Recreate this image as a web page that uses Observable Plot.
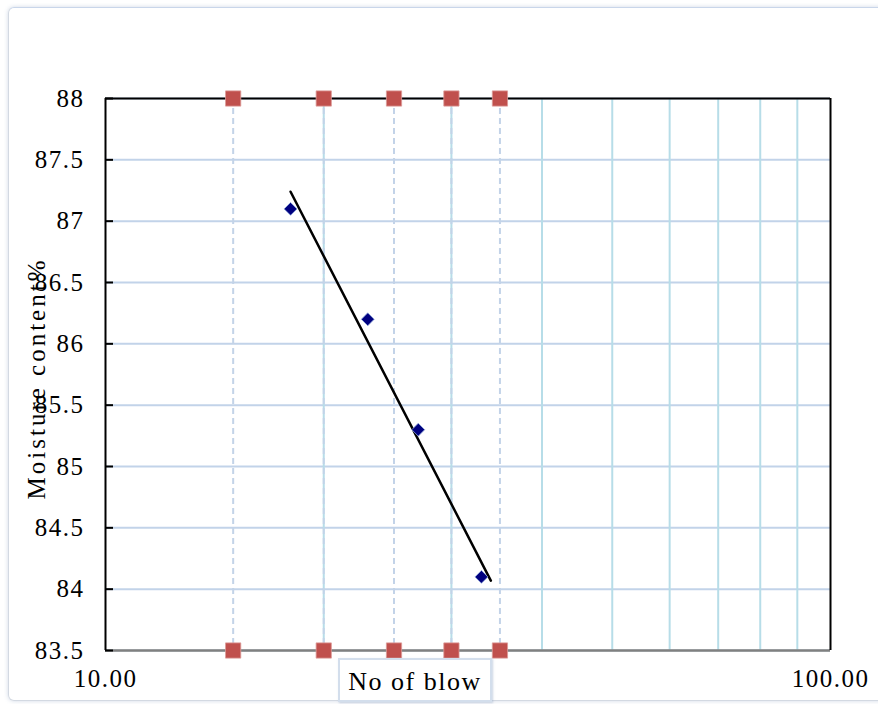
<!DOCTYPE html>
<html><head><meta charset="utf-8">
<script src="https://cdn.jsdelivr.net/npm/d3@7"></script>
<script src="https://cdn.jsdelivr.net/npm/@observablehq/plot@0.6"></script>
<style>
body{margin:0;background:#fff;}
#wrap{position:relative;width:878px;height:704px;overflow:hidden;}
#panel{position:absolute;left:8px;top:7px;width:900px;height:692px;border:1.5px solid #d3d9e2;border-top-color:#c9d6ea;border-radius:6px;box-shadow:0 0 4px rgba(150,170,200,0.45);}
#chart{position:absolute;left:0;top:0;}
#xlabel{position:absolute;left:338px;top:658px;width:150px;height:40px;border:2px solid #d3deec;box-shadow:1px 1px 2px rgba(150,170,200,0.5);background:#fff;font:26px "Liberation Serif";letter-spacing:1.5px;text-align:center;line-height:44px;color:#000;white-space:nowrap;}
</style></head>
<body>
<div id="wrap"><div id="panel"></div><div id="chart"></div><div id="xlabel">No of blow</div></div>
<script>
// ---- data ----
const blows = [18, 23, 27, 33];
const moisture = [87.1, 86.2, 85.3, 84.1];
const markerBlows = [15, 20, 25, 30, 35];
const markerLevels = [88, 83.5];
const trendBlows = [18, 34];
const trendMoisture = [87.24, 84.07];
const yTicks = [83.5, 84, 84.5, 85, 85.5, 86, 86.5, 87, 87.5, 88];
const xGrid = [20, 30, 40, 50, 60, 70, 80, 90];
const xTicks = [10, 100];
const xTickLabels = ["10.00", "100.00"];
const yTitle = "Moisture content%";

const points = blows.map((b, i) => ({b, m: moisture[i]}));
const squares = markerLevels.flatMap(l => markerBlows.map(b => ({b, l})));
const trend = trendBlows.map((b, i) => ({b, m: trendMoisture[i]}));
const font = "Liberation Serif";

const chart = Plot.plot({
  width: 878, height: 704,
  marginLeft: 105, marginRight: 48, marginTop: 98, marginBottom: 54,
  style: {fontFamily: font, background: "transparent", overflow: "visible"},
  x: {type: "log", domain: [10, 100]},
  y: {domain: [83.5, 88]},
  marks: [
    Plot.gridY(yTicks, {stroke: "#c2d3e9", strokeOpacity: 1, strokeWidth: 2}),
    Plot.gridX(xGrid, {stroke: "#b7dde8", strokeOpacity: 1, strokeWidth: 2}),
    Plot.ruleX(markerBlows, {stroke: "#c3d3e8", strokeWidth: 2, strokeDasharray: "6,4"}),
    Plot.ruleY([83.5], {stroke: "#808080", strokeWidth: 2.5}),
    Plot.ruleY([88], {stroke: "#000", strokeWidth: 2}),
    Plot.ruleX([10, 100], {stroke: "#000", strokeWidth: 2}),
    Plot.axisY(yTicks, {tickSize: 8, dx: 8, tickFormat: () => "", stroke: "#000", strokeWidth: 2, strokeOpacity: 1, label: null}),
    Plot.axisY(yTicks, {tickSize: 0, tickPadding: 21, tickFormat: d => String(d), fontSize: 25, fontFamily: font, fill: "#000", label: null}),
    Plot.axisX(xTicks, {tickSize: 0, tickPadding: 19, tickFormat: d => xTickLabels[xTicks.indexOf(d)], fontSize: 25, fontFamily: font, fill: "#000", label: null}),
    Plot.line(trend, {x: "b", y: "m", stroke: "#000", strokeWidth: 2.5}),
    Plot.dot(points, {x: "b", y: "m", symbol: "diamond2", r: 5.8, fill: "#00007f", stroke: "#8ea6da", strokeWidth: 0.8}),
    Plot.dot(squares, {x: "b", y: "l", symbol: "square", r: 8.6, fill: "#c0504d", stroke: "#dc9a98", strokeWidth: 0.8}),
    Plot.text([yTitle], {frameAnchor: "left", rotate: -90, dx: -69, dy: 4, fontSize: 25, fontFamily: font, fill: "#000", textAnchor: "middle", lineAnchor: "middle"})
  ]
});
const yLabelSet = new Set(yTicks.map(String));
d3.select(chart).selectAll("text").each(function() {
  const t = this.textContent;
  let ls = null;
  if (yLabelSet.has(t)) ls = "1.5px";
  else if (xTickLabels.includes(t)) ls = "1.5px";
  else if (t === yTitle) ls = "3px";
  if (ls) { this.setAttribute("letter-spacing", ls); this.style.letterSpacing = ls; }
});
document.getElementById("chart").appendChild(chart);
</script>
</body></html>
